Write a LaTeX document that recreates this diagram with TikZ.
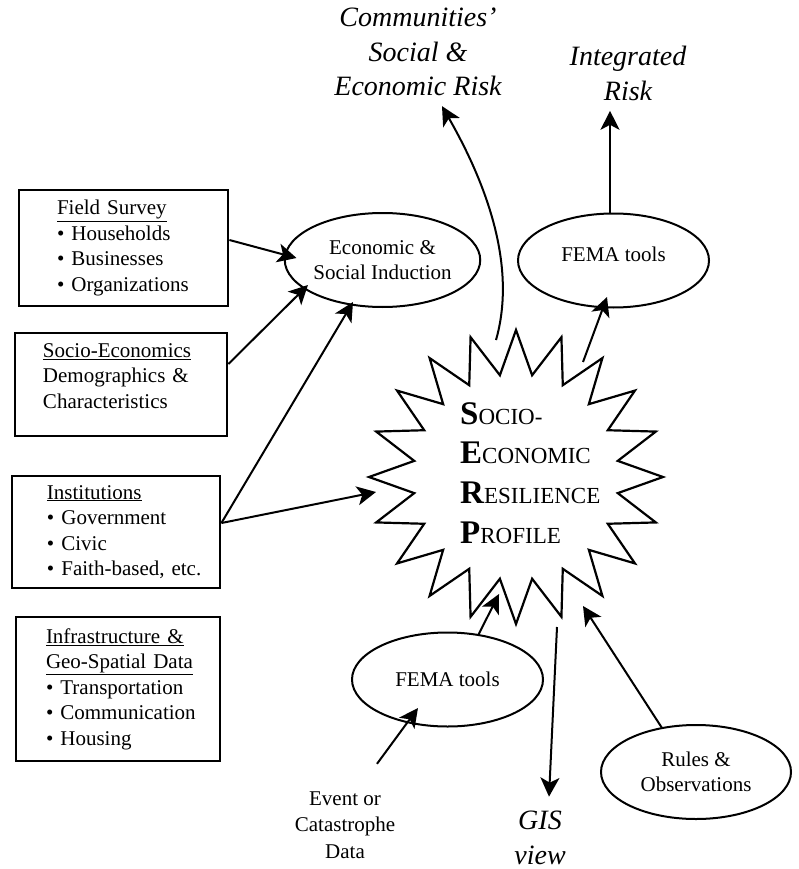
\documentclass[tikz,border=0pt]{standalone}
\usepackage{fontspec}
\setmainfont{Liberation Serif}
\usetikzlibrary{shapes.geometric,arrows.meta,calc}
\begin{document}
\begin{tikzpicture}[x=1pt,y=-1pt,
  box/.style={draw, line width=2.8pt, rectangle, inner xsep=4pt, inner ysep=0pt, align=left,
              font=\fontsize{21}{25.5}\selectfont},
  oval/.style={draw, ellipse, line width=2pt, minimum width=191pt, minimum height=94pt,
               inner sep=0pt, align=center, font=\fontsize{21}{24.5}\selectfont},
  big/.style={font=\fontsize{28}{34.5}\selectfont\itshape, align=center, inner sep=0pt},
  plain/.style={font=\fontsize{21}{26.5}\selectfont, align=center, inner sep=0pt},
  arr/.style={line width=2pt, -{Stealth[length=19pt,width=19pt,inset=5pt]}},
  starbox/.style={star, star points=20, star point ratio=1.427, minimum size=294pt,
                  inner sep=0pt, draw, line width=2.2pt},
]
\useasboundingbox (0,0) rectangle (798,869);

% boxes
\node[box, minimum width=209pt, minimum height=116pt, text width=201pt] (fs) at (123.5,248)
  {\hspace*{34pt}\underline{Field Survey}\\
   \hspace*{34pt}\textbullet\ Households\\
   \hspace*{34pt}\textbullet\ Businesses\\
   \hspace*{34pt}\textbullet\ Organizations};
\node[box, minimum width=212pt, minimum height=103pt, text width=204pt] (se) at (121,384.5)
  {\hspace*{24pt}\underline{Socio-Economics}\\
   \hspace*{24pt}Demographics \&\\
   \hspace*{24pt}Characteristics\rule[-17pt]{0pt}{17pt}};
\node[box, minimum width=208pt, minimum height=112pt, text width=200pt] (inst) at (116,532)
  {\hspace*{31pt}\underline{Institutions}\\
   \hspace*{31pt}\textbullet\ Government\\
   \hspace*{31pt}\textbullet\ Civic\\
   \hspace*{31pt}\textbullet\ Faith-based, etc.};
\node[box, minimum width=204pt, minimum height=144pt, text width=196pt] (infra) at (118,689)
  {\hspace*{26pt}\underline{Infrastructure \&}\\
   \hspace*{26pt}\underline{Geo-Spatial Data}\\
   \hspace*{26pt}\textbullet\ Transportation\\
   \hspace*{26pt}\textbullet\ Communication\\
   \hspace*{26pt}\textbullet\ Housing};

% ellipses
\node[oval] (esi) at (382.5,260) {Economic \&\\Social Induction};
\node[oval, text depth=12pt] (fema1) at (613.5,260.5) {FEMA tools};
\node[oval] (fema2) at (447.5,679.5) {FEMA tools};
\node[oval, minimum width=190pt] (rules) at (696,772) {Rules \&\\Observations};

% star
\node[starbox] (serp) at (516,477) {};
\node[anchor=west, inner sep=0pt, align=left, font=\fontsize{23}{39.7}\selectfont] (serptxt) at (460,473)
  {{\fontsize{33}{39.7}\selectfont\bfseries S}OCIO-\\
   {\fontsize{33}{39.7}\selectfont\bfseries E}CONOMIC\\
   {\fontsize{33}{39.7}\selectfont\bfseries R}ESILIENCE\\
   {\fontsize{33}{39.7}\selectfont\bfseries P}ROFILE};

% free texts
\node[big] (comm) at (418,52) {Communities’\\Social \&\\Economic Risk};
\node[big] (ir) at (628,73.5) {Integrated\\Risk};
\node[big] (gis) at (540,838) {GIS\\view};
\node[plain] (event) at (345,825) {Event or\\Catastrophe\\Data};

% connectors
\draw[arr] ([yshift=8pt]fs.east) -- ($(esi.center)+(-86,-2)$);
\draw[arr] ([yshift=20.5pt]se.east) -- ($(esi.center)+(-74.5,25)$);
\draw[arr] ([yshift=9pt]inst.east) -- ($(esi.center)+(-29.5,42)$);
\draw[arr] ([yshift=9pt]inst.east) -- ($(serp.center)+(-140,15)$);
\draw[arr] ($(serp.center)+(67,-115)$) -- ($(fema1.center)+(-6.5,36.5)$);
\draw[arr] ($(serp.center)+(-20,-137)$) .. controls ($(serp.center)+(0,-207)$) and ($(serp.center)+(-26,-287)$) .. ($(comm.south)+(24,10)$);
\draw[arr] ($(fema1.north)+(-3.5,0)$) -- ($(ir.south)+(-18,10)$);
\draw[arr] ($(fema2.center)+(30.5,-44)$) -- ($(serp.center)+(-17,117)$);
\draw[arr] ($(event.north)+(32,-27.5)$) -- ($(fema2.center)+(-29.5,28.5)$);
\draw[arr] ($(serp.center)+(41,150)$) -- ($(gis.north)+(9,-14.5)$);
\draw[arr] ($(rules.center)+(-34,-44)$) -- ($(serp.center)+(67,129)$);
\end{tikzpicture}
\end{document}
